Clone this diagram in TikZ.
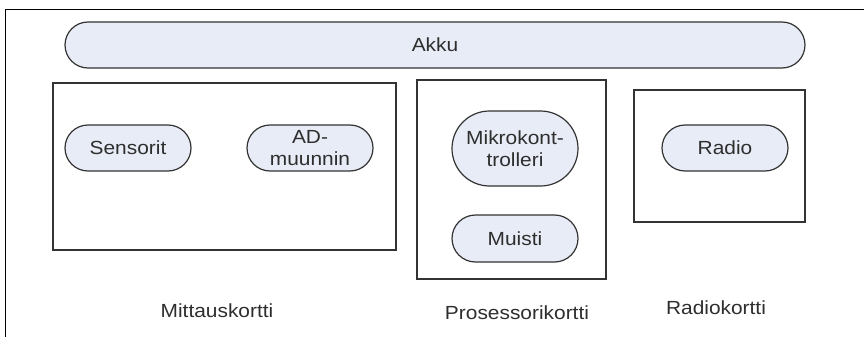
\documentclass[tikz,border=0pt]{standalone}
\usepackage{fontspec}
\setmainfont{Liberation Sans}
\usetikzlibrary{shapes.misc}
\definecolor{pillfill}{HTML}{E8ECF6}
\definecolor{edge}{HTML}{333333}
\newcommand{\wide}[1]{\scalebox{1.1}[1]{#1}}
\begin{document}
\begin{tikzpicture}[x=1pt,y=-1pt,
  every node/.style={font=\fontsize{19}{22}\selectfont, text=edge!90!black},
  pill/.style={rounded rectangle, draw=edge, line width=1.2pt, fill=pillfill,
    minimum width=126pt, minimum height=46pt, inner sep=0pt, align=center},
  card/.style={rectangle, draw=edge, line width=1.2pt, inner sep=0pt},
  cardlabel/.style={inner sep=0pt}]
  \useasboundingbox (0,0) rectangle (864,337);
  % outer frame
  \draw[line width=1pt, black] (5,337) -- (5,10) -- (864,10);

  % battery bar
  \node[pill, minimum width=740pt] (akku) at (435,45) {\wide{Akku}};

  % measurement card
  \node[card, minimum width=343pt, minimum height=167pt] (mittaus) at (224.5,166.5) {};
  \node[pill] (sensorit) at (128,148) {\wide{Sensorit}};
  \node[pill] (ad) at (310,148) {\wide{AD-}\\\wide{muunnin}};
  \node[cardlabel] (mittauslbl) at (217,311) {\wide{Mittauskortti}};

  % processor card
  \node[card, minimum width=189pt, minimum height=199pt] (prosessori) at (511.5,179.5) {};
  \node[pill, minimum height=75pt] (mikro) at (515,148.5) {\wide{Mikrokont-}\\\wide{trolleri}};
  \node[pill, minimum height=47pt] (muisti) at (515,238.5) {\wide{Muisti}};
  \node[cardlabel] (prosessorilbl) at (517,313) {\wide{Prosessorikortti}};

  % radio card
  \node[card, minimum width=171pt, minimum height=132pt] (radiokortti) at (719.5,156) {};
  \node[pill] (radio) at (725,148) {\wide{Radio}};
  \node[cardlabel] (radiolbl) at (716,308) {\wide{Radiokortti}};
\end{tikzpicture}
\end{document}
